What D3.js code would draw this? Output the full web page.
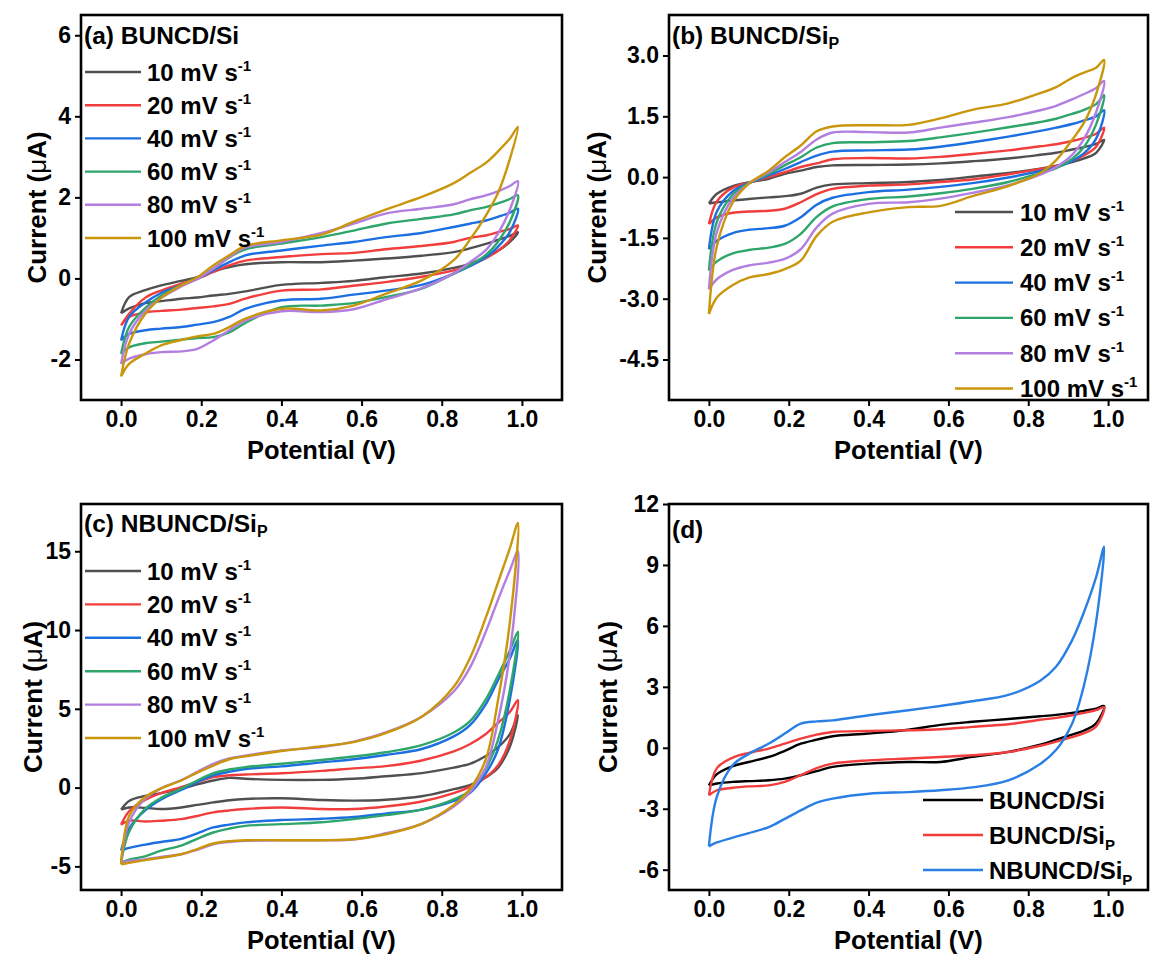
<!DOCTYPE html>
<html><head><meta charset="utf-8">
<script src="https://cdn.jsdelivr.net/npm/d3@7"></script>
<style>
body{margin:0;background:#fff}
svg{display:block}
text{font-family:"Liberation Sans",Arial,sans-serif;font-weight:bold;fill:#000}
</style>
</head><body><svg id="chart" width="1151" height="959"></svg>
<script>
// ---------- DATA ----------
const potentials = [0, 0.02, 0.06, 0.10, 0.15, 0.19, 0.23, 0.27, 0.31, 0.40, 0.50, 0.58, 0.66, 0.75, 0.83, 0.87, 0.91, 0.94, 0.97, 0.99];
const scanRates = [10, 20, 40, 60, 80, 100];
const xTicks = [0, 0.2, 0.4, 0.6, 0.8, 1.0];

// (a) BUNCD/Si  — forward (upper) and reverse (lower) branches, µA
const aUpper = [
  [-0.86,-0.46,-0.29,-0.17,-0.06,0.03,0.17,0.28,0.35,0.40,0.40,0.44,0.49,0.56,0.65,0.74,0.85,0.95,1.05,1.14],
  [-1.16,-0.87,-0.48,-0.30,-0.13,-0.01,0.16,0.32,0.44,0.53,0.60,0.63,0.72,0.80,0.90,1.00,1.06,1.14,1.22,1.31],
  [-1.53,-0.95,-0.60,-0.36,-0.17,-0.01,0.20,0.40,0.57,0.69,0.81,0.90,1.02,1.12,1.27,1.35,1.43,1.52,1.62,1.72],
  [-1.86,-1.20,-0.73,-0.43,-0.17,0.01,0.24,0.52,0.72,0.86,1.02,1.18,1.35,1.47,1.58,1.68,1.76,1.85,1.96,2.05],
  [-2.11,-1.37,-0.80,-0.48,-0.20,-0.01,0.24,0.53,0.76,0.90,1.12,1.35,1.60,1.72,1.83,1.95,2.05,2.15,2.28,2.40],
  [-2.42,-1.61,-0.88,-0.48,-0.17,0.03,0.32,0.57,0.80,0.94,1.08,1.40,1.70,2.01,2.35,2.60,2.85,3.13,3.45,3.74]
];
const aLower = [
  [-0.86,-0.74,-0.61,-0.56,-0.50,-0.47,-0.42,-0.38,-0.32,-0.16,-0.11,-0.06,0.03,0.12,0.26,0.36,0.53,0.68,0.90,1.14],
  [-1.16,-0.95,-0.84,-0.80,-0.77,-0.73,-0.69,-0.63,-0.50,-0.30,-0.27,-0.18,-0.09,0.04,0.20,0.32,0.50,0.68,0.95,1.31],
  [-1.53,-1.37,-1.28,-1.24,-1.20,-1.14,-1.08,-0.95,-0.75,-0.54,-0.50,-0.40,-0.30,-0.16,0.12,0.30,0.52,0.78,1.15,1.72],
  [-1.86,-1.70,-1.60,-1.56,-1.51,-1.47,-1.45,-1.33,-1.10,-0.71,-0.67,-0.61,-0.46,-0.25,0.12,0.33,0.58,0.90,1.40,2.05],
  [-2.11,-1.98,-1.87,-1.82,-1.80,-1.74,-1.53,-1.28,-1.04,-0.81,-0.83,-0.76,-0.52,-0.24,0.13,0.40,0.70,1.10,1.70,2.40],
  [-2.42,-2.11,-1.86,-1.65,-1.52,-1.43,-1.37,-1.20,-0.99,-0.75,-0.79,-0.67,-0.38,-0.05,0.45,0.95,1.55,2.10,2.95,3.74]
];
const aTicks = [-2, 0, 2, 4, 6];

// (b) BUNCD/SiP
const bUpper = [
  [-0.65,-0.41,-0.22,-0.13,-0.04,0.08,0.16,0.25,0.29,0.30,0.31,0.34,0.39,0.46,0.55,0.60,0.68,0.74,0.82,0.92],
  [-1.16,-0.60,-0.26,-0.14,0.00,0.12,0.25,0.34,0.44,0.47,0.46,0.50,0.57,0.66,0.76,0.81,0.89,0.97,1.07,1.22],
  [-1.78,-0.85,-0.35,-0.15,0.04,0.20,0.37,0.53,0.63,0.66,0.68,0.75,0.86,1.00,1.14,1.22,1.31,1.40,1.50,1.65],
  [-2.31,-1.10,-0.43,-0.15,0.08,0.29,0.49,0.73,0.84,0.86,0.89,0.98,1.09,1.23,1.36,1.44,1.56,1.66,1.80,2.02],
  [-2.77,-1.35,-0.52,-0.16,0.12,0.37,0.62,0.93,1.10,1.11,1.10,1.22,1.34,1.48,1.65,1.76,1.92,2.05,2.20,2.37],
  [-3.38,-1.70,-0.62,-0.16,0.16,0.49,0.78,1.13,1.25,1.28,1.29,1.45,1.66,1.82,2.07,2.22,2.45,2.58,2.70,2.89]
];
const bLower = [
  [-0.65,-0.62,-0.58,-0.54,-0.50,-0.47,-0.41,-0.26,-0.18,-0.15,-0.12,-0.07,0.01,0.10,0.21,0.28,0.37,0.46,0.60,0.92],
  [-1.16,-0.99,-0.88,-0.85,-0.83,-0.78,-0.62,-0.42,-0.29,-0.21,-0.18,-0.12,-0.06,0.07,0.20,0.27,0.40,0.54,0.75,1.22],
  [-1.78,-1.57,-1.38,-1.30,-1.26,-1.20,-0.99,-0.68,-0.51,-0.37,-0.31,-0.24,-0.15,-0.01,0.15,0.24,0.40,0.59,0.95,1.65],
  [-2.31,-2.08,-1.88,-1.80,-1.74,-1.65,-1.40,-0.98,-0.72,-0.54,-0.48,-0.40,-0.29,-0.12,0.10,0.22,0.45,0.75,1.30,2.02],
  [-2.77,-2.52,-2.29,-2.18,-2.11,-2.02,-1.78,-1.24,-0.90,-0.66,-0.62,-0.53,-0.39,-0.20,0.06,0.25,0.55,0.95,1.60,2.37],
  [-3.38,-2.97,-2.66,-2.48,-2.39,-2.27,-2.06,-1.45,-1.10,-0.87,-0.74,-0.71,-0.47,-0.22,0.10,0.42,0.92,1.35,2.05,2.89]
];
const bTicks = [-4.5, -3.0, -1.5, 0.0, 1.5, 3.0];

// (c) NBUNCD/SiP
const cUpper = [
  [-1.40,-0.85,-0.53,-0.35,-0.08,0.20,0.45,0.62,0.56,0.49,0.49,0.56,0.72,0.92,1.27,1.50,2.00,2.55,3.40,4.60],
  [-2.36,-1.50,-0.78,-0.35,0.03,0.35,0.66,0.78,0.83,0.91,1.06,1.22,1.36,1.72,2.30,2.75,3.40,4.10,4.80,5.55],
  [-4.00,-2.60,-1.45,-0.75,-0.15,0.35,0.77,1.00,1.18,1.35,1.60,1.80,2.07,2.45,3.25,3.95,5.30,6.80,8.20,9.40],
  [-4.75,-2.80,-1.35,-0.65,-0.07,0.45,0.91,1.15,1.30,1.51,1.75,1.97,2.24,2.70,3.50,4.20,5.60,7.10,8.70,9.90],
  [-4.77,-2.20,-0.70,-0.05,0.47,1.00,1.51,1.85,2.03,2.36,2.57,2.92,3.50,4.50,6.10,7.60,9.90,11.9,13.8,15.0],
  [-4.87,-1.80,-0.60,-0.05,0.45,0.95,1.40,1.80,1.98,2.32,2.62,2.89,3.45,4.50,6.40,8.20,10.8,13.0,15.2,16.8]
];
const cLower = [
  [-1.40,-1.26,-1.29,-1.36,-1.26,-1.10,-0.94,-0.80,-0.72,-0.68,-0.79,-0.83,-0.77,-0.55,-0.10,0.15,0.65,1.25,2.60,4.60],
  [-2.36,-2.10,-2.15,-2.10,-2.00,-1.80,-1.57,-1.45,-1.36,-1.26,-1.36,-1.36,-1.20,-0.88,-0.35,0.05,0.65,1.40,3.00,5.55],
  [-4.00,-3.83,-3.62,-3.45,-3.25,-2.90,-2.53,-2.35,-2.21,-2.06,-1.98,-1.87,-1.65,-1.40,-0.85,-0.35,0.90,2.40,5.60,9.40],
  [-4.75,-4.57,-4.36,-4.00,-3.68,-3.25,-2.85,-2.60,-2.43,-2.32,-2.20,-2.00,-1.75,-1.40,-0.75,-0.20,1.20,3.00,6.20,9.90],
  [-4.77,-4.66,-4.56,-4.40,-4.23,-3.95,-3.60,-3.45,-3.38,-3.34,-3.34,-3.30,-2.90,-2.30,-1.20,-0.30,1.30,4.20,8.50,15.0],
  [-4.87,-4.77,-4.60,-4.45,-4.23,-3.90,-3.55,-3.40,-3.34,-3.34,-3.34,-3.28,-2.96,-2.30,-1.10,-0.10,1.80,5.50,10.5,16.8]
];
const cTicks = [-5, 0, 5, 10, 15];

// (d) comparison
const dNames = ["BUNCD/Si", "BUNCD/Si", "NBUNCD/Si"];
const dSubscripts = ["", "P", "P"];
const dUpper = [
  [-1.85,-1.30,-0.90,-0.70,-0.45,-0.15,0.20,0.40,0.57,0.70,0.89,1.13,1.28,1.42,1.55,1.62,1.72,1.82,1.93,2.05],
  [-2.34,-1.00,-0.48,-0.25,-0.04,0.20,0.45,0.65,0.78,0.83,0.86,0.91,1.03,1.16,1.38,1.47,1.60,1.72,1.85,2.00],
  [-4.85,-2.40,-0.85,-0.30,0.21,0.70,1.19,1.30,1.35,1.60,1.85,2.06,2.29,2.60,3.30,4.00,5.30,6.70,8.40,9.90]
];
const dLower = [
  [-1.85,-1.76,-1.68,-1.64,-1.60,-1.52,-1.35,-1.15,-0.94,-0.78,-0.70,-0.70,-0.45,-0.20,0.15,0.40,0.65,0.85,1.20,2.05],
  [-2.34,-2.09,-1.97,-1.90,-1.85,-1.68,-1.35,-1.00,-0.78,-0.62,-0.53,-0.45,-0.37,-0.21,0.10,0.30,0.52,0.72,1.05,2.00],
  [-4.85,-4.66,-4.42,-4.20,-3.90,-3.50,-3.08,-2.70,-2.50,-2.26,-2.18,-2.09,-1.95,-1.60,-0.80,-0.10,1.20,3.10,6.20,9.90]
];
const dTicks = [-6, -3, 0, 3, 6, 9, 12];

// ---------- STYLE ----------
const rateColors = ["#505050", "#f23d3d", "#1c6fe0", "#2ea56a", "#b27ee0", "#c9960c"];
const dColors = ["#000000", "#f23d3d", "#2a7fe4"];

const svg = d3.select("#chart");
const hyphen = f => d => f(d).replace("\u2212", "-");

function drawPanel(o) {
  const g = svg.append("g");
  const x = d3.scaleLinear().domain([-0.1, 1.1]).range([o.l, o.r]);
  const y = d3.scaleLinear().domain(o.yDom).range([o.b, o.t]);
  const line = d3.line().x(d => x(d[0])).y(d => y(d[1])).curve(d3.curveCatmullRom.alpha(0.5));

  o.upper.forEach((up, i) => {
    const lo = o.lower[i];
    const fwd = potentials.map((e, k) => [e, up[k]]);
    const rev = potentials.map((e, k) => [e, lo[k]]).reverse().slice(1);
    g.append("path").attr("d", line(fwd.concat(rev)))
      .attr("fill", "none").attr("stroke", o.colors[i])
      .attr("stroke-width", 2.4).attr("stroke-linejoin", "round");
  });

  g.append("rect").attr("x", o.l).attr("y", o.t)
    .attr("width", o.r - o.l).attr("height", o.b - o.t)
    .attr("fill", "none").attr("stroke", "#000").attr("stroke-width", 2.6);

  const xa = g.append("g").attr("transform", `translate(0,${o.b})`)
    .call(d3.axisBottom(x).tickValues(xTicks).tickFormat(hyphen(d3.format(".1f"))).tickSize(6).tickPadding(5));
  const ya = g.append("g").attr("transform", `translate(${o.l},0)`)
    .call(d3.axisLeft(y).tickValues(o.yTicks).tickFormat(hyphen(o.yFmt)).tickSize(6).tickPadding(4));
  [xa, ya].forEach(a => {
    a.select(".domain").remove();
    a.selectAll(".tick line").attr("stroke", "#000").attr("stroke-width", 2);
    a.selectAll(".tick text").attr("font-size", 23).attr("fill", "#000")
      .attr("font-family", "'Liberation Sans', Arial, sans-serif").attr("font-weight", "bold");
  });

  // axis titles
  g.append("text").attr("x", (o.l + o.r) / 2).attr("y", o.b + 59)
    .attr("text-anchor", "middle").attr("font-size", 25.5).text("Potential (V)");
  const yt = g.append("text")
    .attr("transform", `translate(${o.ytx},${(o.t + o.b) / 2}) rotate(-90)`)
    .attr("text-anchor", "middle").attr("font-size", 26);
  yt.append("tspan").text("Current (");
  yt.append("tspan").attr("font-weight", "normal").text("\u03bc");
  yt.append("tspan").text("A)");

  // panel title
  const pt = g.append("text").attr("x", o.l + 3).attr("y", o.titleY).attr("font-size", 24.5);
  pt.append("tspan").text(o.title);
  if (o.titleSub) pt.append("tspan").attr("font-size", 16).attr("dy", 5).text(o.titleSub);

  // legend
  o.legend.rows.forEach((row, i) => {
    const ly = o.legend.y0 + i * o.legend.dy;
    g.append("line").attr("x1", o.legend.x1).attr("x2", o.legend.x2)
      .attr("y1", ly).attr("y2", ly).attr("stroke", o.colors[i]).attr("stroke-width", 2.4);
    const t = g.append("text").attr("x", o.legend.tx).attr("y", ly + 8.5).attr("font-size", 24);
    t.append("tspan").text(row.text);
    if (row.sup) t.append("tspan").attr("font-size", 15).attr("dy", -10).text(row.sup);
    if (row.sub) t.append("tspan").attr("font-size", 15).attr("dy", 6).text(row.sub);
  });
}

const rateRows = scanRates.map(r => ({ text: `${r} mV s`, sup: "-1" }));

drawPanel({ l: 81, r: 562, t: 15, b: 400, yDom: [-3, 6.5], yTicks: aTicks, yFmt: d3.format("d"),
  upper: aUpper, lower: aLower, colors: rateColors, ytx: 46,
  title: "(a) BUNCD/Si", titleY: 44,
  legend: { rows: rateRows, x1: 85, x2: 141, tx: 147, y0: 72, dy: 33.2 } });

drawPanel({ l: 669, r: 1148, t: 15, b: 400, yDom: [-5.5, 4], yTicks: bTicks, yFmt: d3.format(".1f"),
  upper: bUpper, lower: bLower, colors: rateColors, ytx: 606,
  title: "(b) BUNCD/Si", titleSub: "P", titleY: 44,
  legend: { rows: rateRows, x1: 955, x2: 1013, tx: 1020, y0: 212, dy: 35.3 } });

drawPanel({ l: 81, r: 562, t: 504, b: 890, yDom: [-6.5, 18], yTicks: cTicks, yFmt: d3.format("d"),
  upper: cUpper, lower: cLower, colors: rateColors, ytx: 42,
  title: "(c) NBUNCD/Si", titleSub: "P", titleY: 532,
  legend: { rows: rateRows, x1: 85, x2: 141, tx: 147, y0: 571, dy: 33.4 } });

drawPanel({ l: 669, r: 1148, t: 504, b: 890, yDom: [-7, 12], yTicks: dTicks, yFmt: d3.format("d"),
  upper: dUpper, lower: dLower, colors: dColors, ytx: 617,
  title: "(d)", titleY: 538,
  legend: { rows: dNames.map((n, i) => ({ text: n, sub: dSubscripts[i] })), x1: 923, x2: 983, tx: 989, y0: 800, dy: 35 } });
</script>
</body></html>
